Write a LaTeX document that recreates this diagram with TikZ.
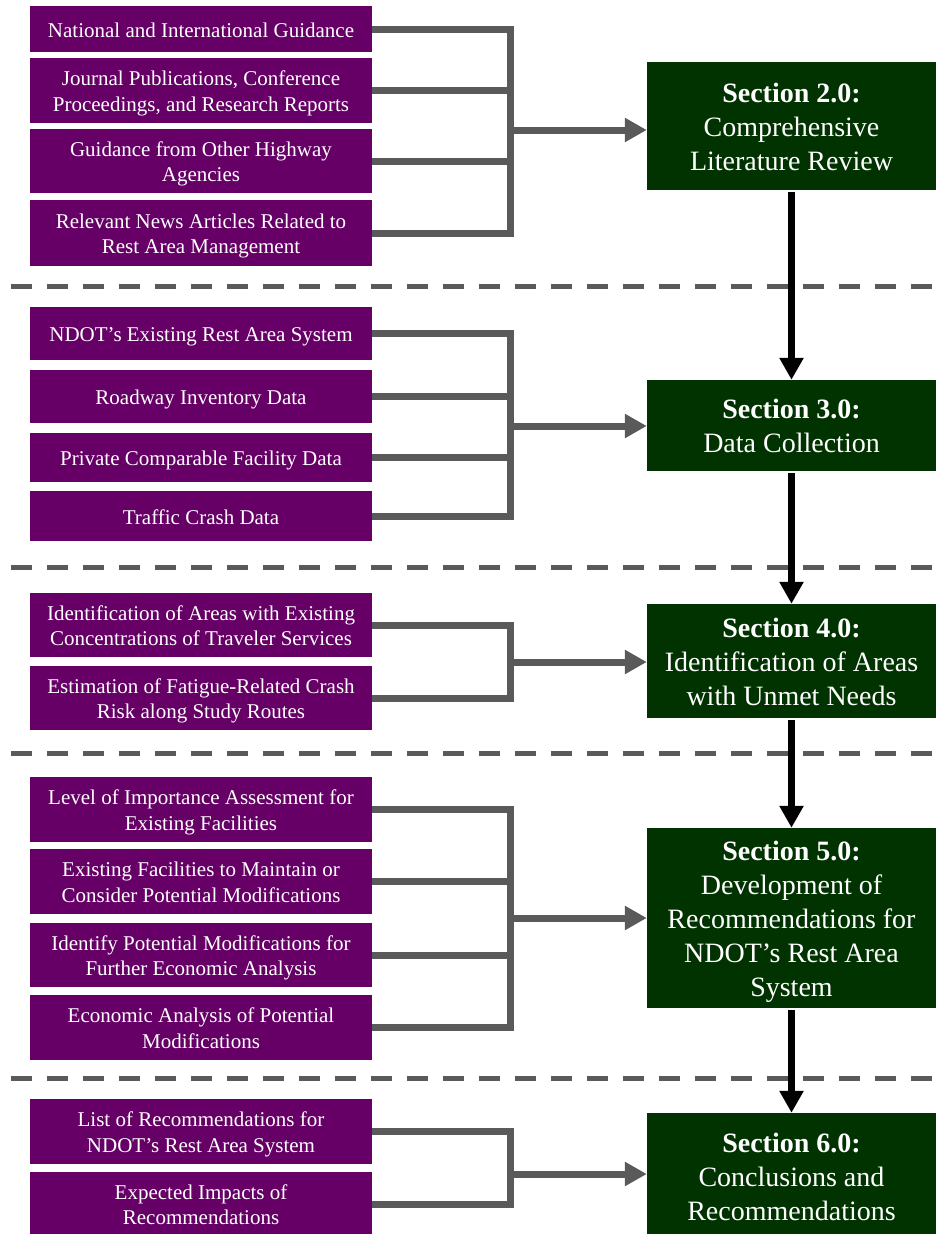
\documentclass[tikz,border=0pt]{standalone}
\usepackage{fontspec}
\setmainfont{Liberation Serif}
\usetikzlibrary{arrows.meta}
\definecolor{purp}{HTML}{660066}
\definecolor{grn}{HTML}{003300}
\definecolor{cgray}{HTML}{5A5A5A}
\newcommand\ps{\rule[-4.75pt]{0pt}{25.5pt}}
\newcommand\gs{\rule[-7pt]{0pt}{34pt}}
\begin{document}
\begin{tikzpicture}[x=1pt,y=-1pt,
  pbox/.style={fill=purp, text=white, minimum width=342pt, inner sep=0pt, align=center, font=\fontsize{21}{25.5}\selectfont},
  gbox/.style={fill=grn, text=white, minimum width=289pt, inner sep=0pt, align=center, font=\fontsize{28}{34}\selectfont},
  conn/.style={draw=cgray, line width=7pt},
  garrow/.style={draw=cgray, line width=7pt, -{Triangle[width=23pt,length=22pt]}},
  barrow/.style={draw=black, line width=7pt, -{Triangle[width=23pt,length=22pt]}, shorten <=2pt},
  sepline/.style={draw=cgray, line width=5pt, dash pattern=on 21pt off 15pt}]
\useasboundingbox (0,0) rectangle (943,1234);

% separators
\draw[sepline] (11,286) -- (943,286);
\draw[sepline] (11,567) -- (943,567);
\draw[sepline] (11,753) -- (943,753);
\draw[sepline] (11,1078) -- (943,1078);

% group 1
\node[pbox, minimum height=46pt] (p11) at (201,29) {\ps National and International Guidance\ps};
\node[pbox, minimum height=65pt] (p12) at (201,90.5) {\ps Journal Publications, Conference\\Proceedings, and Research Reports\ps};
\node[pbox, minimum height=64pt] (p13) at (201,161) {\ps Guidance from Other Highway\\Agencies\ps};
\node[pbox, minimum height=66pt] (p14) at (201,233) {\ps Relevant News Articles Related to\\Rest Area Management\ps};
\node[gbox, minimum height=128pt] (s2) at (791.5,126) {\gs\textbf{Section 2.0:}\\Comprehensive\\Literature Review\gs};
\coordinate (j1) at (510,130);
\draw[conn] (p11.east) -| (j1 |- p14.east) -- (p14.east);
\draw[conn] (p12.east) -- (p12.east -| j1);
\draw[conn] (p13.east) -- (p13.east -| j1);
\draw[garrow] (j1) -- (j1 -| s2.west);

% group 2
\node[pbox, minimum height=53pt] (p21) at (201,333.5) {\ps NDOT’s Existing Rest Area System\ps};
\node[pbox, minimum height=53pt] (p22) at (201,396.5) {\ps Roadway Inventory Data\ps};
\node[pbox, minimum height=49pt] (p23) at (201,457.5) {\ps Private Comparable Facility Data\ps};
\node[pbox, minimum height=50pt] (p24) at (201,516) {\ps Traffic Crash Data\ps};
\node[gbox, minimum height=91pt] (s3) at (791.5,425.5) {\gs\textbf{Section 3.0:}\\Data Collection\gs};
\coordinate (j2) at (510,426);
\draw[conn] (p21.east) -| (j2 |- p24.east) -- (p24.east);
\draw[conn] (p22.east) -- (p22.east -| j2);
\draw[conn] (p23.east) -- (p23.east -| j2);
\draw[garrow] (j2) -- (j2 -| s3.west);

% group 3
\node[pbox, minimum height=64pt] (p31) at (201,625) {\ps Identification of Areas with Existing\\Concentrations of Traveler Services\ps};
\node[pbox, minimum height=64pt] (p32) at (201,698) {\ps Estimation of Fatigue-Related Crash\\Risk along Study Routes\ps};
\node[gbox, minimum height=114pt] (s4) at (791.5,661) {\gs\textbf{Section 4.0:}\\Identification of Areas\\with Unmet Needs\gs};
\coordinate (j3) at (510,662);
\draw[conn] (p31.east) -| (j3 |- p32.east) -- (p32.east);
\draw[garrow] (j3) -- (j3 -| s4.west);

% group 4
\node[pbox, minimum height=65pt] (p41) at (201,809.5) {\ps Level of Importance Assessment for\\Existing Facilities\ps};
\node[pbox, minimum height=65pt] (p42) at (201,881.5) {\ps Existing Facilities to Maintain or\\Consider Potential Modifications\ps};
\node[pbox, minimum height=64pt] (p43) at (201,955) {\ps Identify Potential Modifications for\\Further Economic Analysis\ps};
\node[pbox, minimum height=65pt] (p44) at (201,1027.5) {\ps Economic Analysis of Potential\\Modifications\ps};
\node[gbox, minimum height=180pt] (s5) at (791.5,918) {\gs\textbf{Section 5.0:}\\Development of\\Recommendations for\\NDOT’s Rest Area\\System\gs};
\coordinate (j4) at (510,918);
\draw[conn] (p41.east) -| (j4 |- p44.east) -- (p44.east);
\draw[conn] (p42.east) -- (p42.east -| j4);
\draw[conn] (p43.east) -- (p43.east -| j4);
\draw[garrow] (j4) -- (j4 -| s5.west);

% group 5
\node[pbox, minimum height=65pt] (p51) at (201,1131.5) {\ps List of Recommendations for\\NDOT’s Rest Area System\ps};
\node[pbox, minimum height=64pt] (p52) at (201,1204) {\ps Expected Impacts of\\Recommendations\ps};
\node[gbox, minimum height=127pt] (s6) at (791.5,1176.5) {\gs\textbf{Section 6.0:}\\Conclusions and\\Recommendations\gs};
\coordinate (j5) at (510,1174);
\draw[conn] (p51.east) -| (j5 |- p52.east) -- (p52.east);
\draw[garrow] (j5) -- (j5 -| s6.west);

% main flow
\draw[barrow] (s2.south) -- (s3.north);
\draw[barrow] (s3.south) -- (s4.north);
\draw[barrow] (s4.south) -- (s5.north);
\draw[barrow] (s5.south) -- (s6.north);
\end{tikzpicture}
\end{document}
